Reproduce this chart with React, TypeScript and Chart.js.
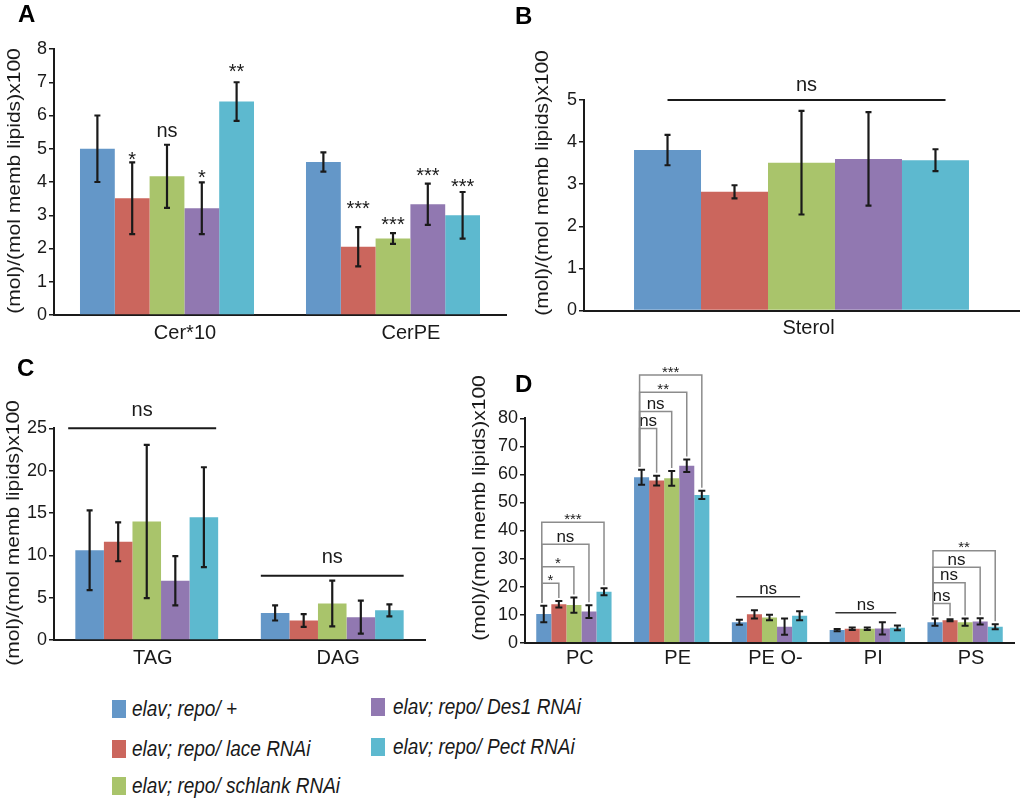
import React, { useEffect, useRef } from "react";
import { Chart, registerables } from "chart.js";

Chart.register(...registerables);

const FONT = "'Liberation Sans', Arial, Helvetica, sans-serif";
const INK = "#1a1a1a";

// ---------- shared ----------
const GROUPS = [
  "elav; repo/ +",
  "elav; repo/ lace RNAi",
  "elav; repo/ schlank RNAi",
  "elav; repo/ Des1 RNAi",
  "elav; repo/ Pect RNAi",
];
const COLORS = ["#6497C8", "#CB665D", "#A9C46B", "#9178B1", "#5DB9CF"];
const Y_TITLE = "(mol)/(mol memb lipids)x100";

// ---------- panel A ----------
const A_CATEGORIES = ["Cer*10", "CerPE"];
const A_MEANS = [
  [5.0, 4.6],
  [3.51, 2.05],
  [4.17, 2.3],
  [3.21, 3.33],
  [6.42, 3.0],
];
const A_ERRORS = [
  [1.0, 0.29],
  [1.08, 0.59],
  [0.95, 0.16],
  [0.78, 0.62],
  [0.58, 0.7],
];
const A_SIGNIF = [
  ["", ""],
  ["*", "***"],
  ["ns", "***"],
  ["*", "***"],
  ["**", "***"],
];
const A_SIGNIF_Y = [
  [0, 0],
  [4.81, 3.34],
  [5.5, 2.86],
  [4.27, 4.33],
  [7.46, 4.0],
];

// ---------- panel B ----------
const B_CATEGORIES = ["Sterol"];
const B_MEANS = [[3.81], [2.82], [3.51], [3.6], [3.57]];
const B_ERRORS = [[0.36], [0.155], [1.23], [1.11], [0.26]];
const B_LINES = [{ cat: 0, from: 0, to: 4.15, y: 5.0, label: "ns" }];

// ---------- panel C ----------
const C_CATEGORIES = ["TAG", "DAG"];
const C_MEANS = [
  [10.6, 3.2],
  [11.6, 2.3],
  [14.0, 4.3],
  [7.0, 2.7],
  [14.5, 3.5],
];
const C_ERRORS = [
  [4.7, 0.9],
  [2.3, 0.75],
  [9.05, 2.7],
  [2.9, 1.95],
  [5.9, 0.7],
];
const C_LINES = [
  { cat: 0, from: -0.75, to: 4.43, y: 25, label: "ns" },
  { cat: 1, from: -0.5, to: 4.5, y: 7.6, label: "ns" },
];

// ---------- panel D ----------
const D_CATEGORIES = ["PC", "PE", "PE O-", "PI", "PS"];
const D_MEANS = [
  [10.2, 59.0, 7.3, 4.5, 7.3],
  [13.7, 57.8, 10.1, 5.0, 8.0],
  [13.4, 58.6, 9.0, 5.0, 7.3],
  [11.1, 63.1, 5.7, 5.1, 7.6],
  [18.2, 52.7, 9.6, 5.3, 5.7],
];
const D_ERRORS = [
  [2.95, 2.65, 0.9, 0.4, 1.3],
  [1.15, 1.75, 1.5, 0.45, 0.35],
  [2.75, 2.65, 1.0, 0.45, 1.3],
  [2.25, 2.2, 2.9, 2.2, 1.15],
  [1.25, 1.45, 1.6, 0.85, 0.9],
];
const D_BRACKETS = [
  { cat: 0, to: 1, y: 21.2, label: "*" },
  { cat: 0, to: 2, y: 27.1, label: "*" },
  { cat: 0, to: 3, y: 35.1, label: "ns" },
  { cat: 0, to: 4, y: 42.9, label: "***" },
  { cat: 1, to: 1, y: 76.4, label: "ns" },
  { cat: 1, to: 2, y: 82.4, label: "ns" },
  { cat: 1, to: 3, y: 89.3, label: "**" },
  { cat: 1, to: 4, y: 95.4, label: "***" },
  { cat: 4, to: 1, y: 14.0, label: "ns" },
  { cat: 4, to: 2, y: 21.4, label: "ns" },
  { cat: 4, to: 3, y: 26.9, label: "ns" },
  { cat: 4, to: 4, y: 32.8, label: "**" },
];
const D_LINES = [
  { cat: 2, from: -0.21, to: 4.03, y: 16.4, label: "ns" },
  { cat: 3, from: -0.12, to: 3.92, y: 10.7, label: "ns" },
];

type SigLine = { cat: number; from: number; to: number; y: number; label: string };
type Bracket = { cat: number; to: number; y: number; label: string };

type Panel = {
  key: string;
  letter: string;
  letterPos: [number, number];
  box: { left: number; top: number; width: number; height: number };
  area: { left: number; top: number; right: number; bottom: number };
  categories: string[];
  means: number[][];
  errors: number[][];
  yMax: number;
  yStep: number;
  catFont: number;
  catPad: number;
  catShift: number;
  titlePos: [number, number];
  errCap: number;
  errWidth: number;
  barSig?: { labels: string[][]; ys: number[][] };
  sigSize: number;
  starSize: number;
  lines?: SigLine[];
  lineRaise: number;
  lineColor: string;
  lineWidth: number;
  brackets?: Bracket[];
};

const PANELS: Panel[] = [
  {
    key: "A",
    letter: "A",
    letterPos: [18, 2],
    box: { left: 0, top: 0, width: 510, height: 350 },
    area: { left: 54, top: 49, right: 506, bottom: 315 },
    categories: A_CATEGORIES,
    means: A_MEANS,
    errors: A_ERRORS,
    yMax: 8,
    yStep: 1,
    catFont: 20,
    catPad: 6,
    catShift: 18,
    titlePos: [15, 181],
    errCap: 3,
    errWidth: 2.2,
    barSig: { labels: A_SIGNIF, ys: A_SIGNIF_Y },
    sigSize: 20,
    starSize: 20,
    lineRaise: 0,
    lineColor: INK,
    lineWidth: 2,
  },
  {
    key: "B",
    letter: "B",
    letterPos: [515, 4],
    box: { left: 500, top: 0, width: 520, height: 350 },
    area: { left: 584, top: 100, right: 1019, bottom: 310.5 },
    categories: B_CATEGORIES,
    means: B_MEANS,
    errors: B_ERRORS,
    yMax: 5,
    yStep: 1,
    catFont: 20,
    catPad: 6,
    catShift: 7,
    titlePos: [543, 183],
    errCap: 3,
    errWidth: 2.2,
    sigSize: 20,
    starSize: 20,
    lines: B_LINES,
    lineRaise: 14,
    lineColor: INK,
    lineWidth: 2,
  },
  {
    key: "C",
    letter: "C",
    letterPos: [17, 356],
    box: { left: 0, top: 360, width: 455, height: 320 },
    area: { left: 54, top: 428.3, right: 425, bottom: 640 },
    categories: C_CATEGORIES,
    means: C_MEANS,
    errors: C_ERRORS,
    yMax: 25,
    yStep: 5,
    catFont: 20,
    catPad: 6,
    catShift: 6,
    titlePos: [14, 533],
    errCap: 3,
    errWidth: 2.2,
    sigSize: 20,
    starSize: 20,
    lines: C_LINES,
    lineRaise: 18,
    lineColor: INK,
    lineWidth: 2,
  },
  {
    key: "D",
    letter: "D",
    letterPos: [515, 372],
    box: { left: 462, top: 358, width: 558, height: 322 },
    area: { left: 525, top: 418.3, right: 1014, bottom: 642.7 },
    categories: D_CATEGORIES,
    means: D_MEANS,
    errors: D_ERRORS,
    yMax: 80,
    yStep: 10,
    catFont: 20,
    catPad: 4,
    catShift: 6,
    titlePos: [480, 508],
    errCap: 3.5,
    errWidth: 2,
    sigSize: 17,
    starSize: 15,
    lines: D_LINES,
    lineRaise: 7,
    lineColor: "#333",
    lineWidth: 1.4,
    brackets: D_BRACKETS,
  },
];

function drawSig(ctx: CanvasRenderingContext2D, text: string, x: number, cy: number, nsSize: number, starSize: number) {
  const star = /^\*+$/.test(text);
  const size = star ? starSize : nsSize;
  ctx.font = `${size}px ${FONT}`;
  ctx.fillStyle = INK;
  ctx.textAlign = "center";
  ctx.textBaseline = "alphabetic";
  ctx.fillText(text, x, cy + (star ? 0.57 : 0.26) * size);
}

function overlay(p: Panel) {
  return {
    id: "overlay" + p.key,
    afterDraw(chart: any) {
      const ctx = chart.ctx as CanvasRenderingContext2D;
      const ys = chart.scales.y;
      const vy = (v: number) => ys.getPixelForValue(v);
      const metas = p.means.map((_, i) => chart.getDatasetMeta(i));
      const cx = (i: number, j: number) => metas[i].data[j].x as number;
      const step = (j: number) => cx(1, j) - cx(0, j);
      const errTop = (i: number, j: number) => vy(p.means[i][j] + p.errors[i][j]);

      ctx.save();
      // error bars
      ctx.strokeStyle = INK;
      ctx.lineWidth = p.errWidth;
      p.means.forEach((row, i) =>
        row.forEach((v, j) => {
          const x = cx(i, j);
          const t = vy(v + p.errors[i][j]);
          const b = vy(v - p.errors[i][j]);
          ctx.beginPath();
          ctx.moveTo(x, t);
          ctx.lineTo(x, b);
          ctx.moveTo(x - p.errCap, t);
          ctx.lineTo(x + p.errCap, t);
          ctx.moveTo(x - p.errCap, b);
          ctx.lineTo(x + p.errCap, b);
          ctx.stroke();
        })
      );

      // significance labels above bars
      if (p.barSig) {
        p.barSig.labels.forEach((row, i) =>
          row.forEach((lab, j) => {
            if (!lab) return;
            drawSig(ctx, lab, cx(i, j), vy(p.barSig!.ys[i][j]), p.sigSize, p.starSize);
          })
        );
      }

      // horizontal ns lines
      (p.lines || []).forEach((l) => {
        const x0 = cx(0, l.cat);
        const s = step(l.cat);
        const xa = x0 + l.from * s;
        const xb = x0 + l.to * s;
        const yl = vy(l.y);
        ctx.strokeStyle = p.lineColor;
        ctx.lineWidth = p.lineWidth;
        ctx.beginPath();
        ctx.moveTo(xa, yl);
        ctx.lineTo(xb, yl);
        ctx.stroke();
        drawSig(ctx, l.label, (xa + xb) / 2, yl - p.lineRaise, p.sigSize, p.starSize);
      });

      // brackets
      (p.brackets || []).forEach((b) => {
        const x1 = cx(0, b.cat) - 2;
        const x2 = cx(b.to, b.cat);
        const yl = vy(b.y);
        ctx.strokeStyle = "#8c8c8c";
        ctx.lineWidth = 1.5;
        ctx.beginPath();
        ctx.moveTo(x1, errTop(0, b.cat) - 3);
        ctx.lineTo(x1, yl);
        ctx.lineTo(x2, yl);
        ctx.lineTo(x2, errTop(b.to, b.cat) - 3);
        ctx.stroke();
        drawSig(ctx, b.label, (x1 + x2) / 2, yl - p.lineRaise, p.sigSize, p.starSize);
      });

      // y-axis title
      ctx.translate(p.titlePos[0] - p.box.left, p.titlePos[1] - p.box.top);
      ctx.rotate(-Math.PI / 2);
      ctx.scale(1.17, 1);
      ctx.font = `18px ${FONT}`;
      ctx.fillStyle = INK;
      ctx.textAlign = "center";
      ctx.textBaseline = "middle";
      ctx.fillText(Y_TITLE, 0, 0);
      ctx.restore();
    },
  };
}

function buildConfig(p: Panel): any {
  const yW = p.area.left - p.box.left;
  const padTop = p.area.top - p.box.top;
  const padRight = p.box.left + p.box.width - p.area.right;
  const xH = p.box.top + p.box.height - p.area.bottom;
  return {
    type: "bar",
    data: {
      labels: p.categories,
      datasets: GROUPS.map((g, i) => ({
        label: g,
        data: p.means[i],
        backgroundColor: COLORS[i],
        borderWidth: 0,
        categoryPercentage: 0.77,
        barPercentage: 1,
      })),
    },
    options: {
      animation: false,
      responsive: false,
      devicePixelRatio: 1,
      layout: { padding: { top: padTop, right: padRight, left: 0, bottom: 0 } },
      plugins: { legend: { display: false }, tooltip: { enabled: false } },
      scales: {
        x: {
          z: 1,
          grid: { display: false, drawTicks: false },
          border: { display: true, color: INK, width: 2 },
          ticks: {
            font: { size: p.catFont, family: FONT },
            color: INK,
            padding: p.catPad,
            labelOffset: p.catShift,
            maxRotation: 0,
            autoSkip: false,
          },
          afterFit: (s: any) => {
            s.height = xH;
          },
        },
        y: {
          min: 0,
          max: p.yMax,
          grid: { drawOnChartArea: false, drawTicks: true, tickLength: 5, color: INK, lineWidth: 1.5 },
          border: { display: true, color: INK, width: 2 },
          ticks: {
            stepSize: p.yStep,
            autoSkip: false,
            font: { size: 18, family: FONT },
            color: INK,
            padding: 2,
          },
          afterFit: (s: any) => {
            s.width = yW;
          },
        },
      },
    },
    plugins: [overlay(p)],
  };
}

function PanelChart({ p }: { p: Panel }) {
  const ref = useRef<HTMLCanvasElement>(null);
  useEffect(() => {
    const canvas = ref.current;
    if (!canvas) return;
    const chart = new Chart(canvas, buildConfig(p));
    return () => chart.destroy();
  }, [p]);
  return (
    <canvas
      ref={ref}
      width={p.box.width}
      height={p.box.height}
      style={{ position: "absolute", left: p.box.left, top: p.box.top, width: p.box.width, height: p.box.height }}
    />
  );
}

const LEGEND_POS: [number, number][] = [
  [112, 700],
  [112, 739.5],
  [112, 776.5],
  [371, 698],
  [371, 738],
];

export default function App() {
  return (
    <div
      style={{
        position: "absolute",
        left: 0,
        top: 0,
        width: 1020,
        height: 800,
        background: "#fff",
        overflow: "hidden",
        fontFamily: FONT,
      }}
    >
      {PANELS.map((p) => (
        <PanelChart key={p.key} p={p} />
      ))}
      {PANELS.map((p) => (
        <div
          key={"l" + p.key}
          style={{
            position: "absolute",
            left: p.letterPos[0],
            top: p.letterPos[1],
            fontSize: 24,
            lineHeight: "24px",
            fontWeight: "bold",
            color: "#000",
          }}
        >
          {p.letter}
        </div>
      ))}
      {GROUPS.map((g, i) => (
        <div
          key={g}
          style={{
            position: "absolute",
            left: LEGEND_POS[i][0],
            top: LEGEND_POS[i][1],
            height: 18,
            display: "flex",
            alignItems: "center",
            whiteSpace: "nowrap",
          }}
        >
          <div style={{ width: 14, height: 18, background: COLORS[i] }} />
          <span
            style={{
              marginLeft: i < 3 ? 6 : 8,
              fontStyle: "italic",
              fontSize: 19,
              color: INK,
              display: "inline-block",
              transform: "scaleY(1.12)",
              transformOrigin: "left center",
            }}
          >
            {g}
          </span>
        </div>
      ))}
    </div>
  );
}
